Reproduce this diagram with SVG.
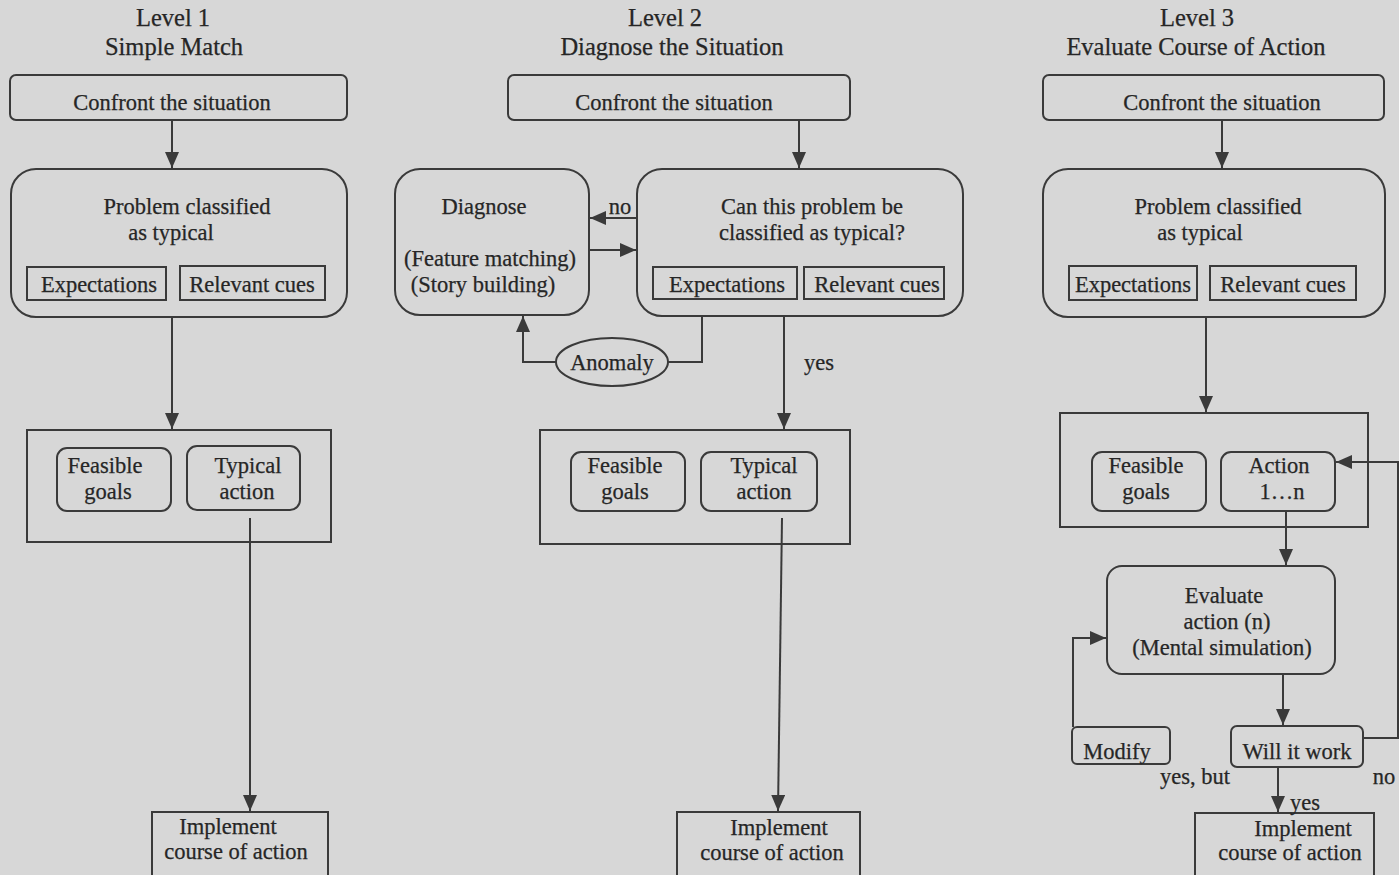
<svg xmlns="http://www.w3.org/2000/svg" width="1399" height="875" viewBox="0 0 1399 875">
<defs>
<marker id="arr" viewBox="0 0 16 14" refX="16" refY="7" markerWidth="16" markerHeight="14" markerUnits="userSpaceOnUse" orient="auto">
<path d="M0,0 L16,7 L0,14 z" fill="#3a3a3a"/>
</marker>
<style>
.b{fill:none;stroke:#3a3a3a;stroke-width:2}
.c{fill:none;stroke:#3a3a3a;stroke-width:2}
.t{font-family:"Liberation Serif","Times New Roman",serif;font-size:22.5px;fill:#262626;stroke:#262626;stroke-width:0.25;text-anchor:middle}
.h{font-family:"Liberation Serif","Times New Roman",serif;font-size:24.5px;fill:#262626;stroke:#262626;stroke-width:0.25;text-anchor:middle}
</style>
</defs>
<rect width="1399" height="875" fill="#d7d7d7"/>

<g id="titles">
<text class="h" x="173" y="26">Level 1</text>
<text class="h" x="174" y="55">Simple Match</text>
<text class="h" x="665" y="26">Level 2</text>
<text class="h" x="672" y="55">Diagnose the Situation</text>
<text class="h" x="1197" y="26">Level 3</text>
<text class="h" x="1196" y="55">Evaluate Course of Action</text>
</g>

<!-- Level 1 -->
<g id="l1-confront"><rect class="b" x="10" y="75" width="337" height="45" rx="6"/><text class="t" x="172" y="110">Confront the situation</text></g>
<g id="l1-problem"><rect class="b" x="11" y="169" width="336" height="148" rx="25"/><text class="t" x="187" y="214">Problem classified</text><text class="t" x="171" y="240">as typical</text></g>
<g id="l1-expect"><rect class="b" x="27" y="267" width="139" height="33"/><text class="t" x="99" y="292">Expectations</text></g>
<g id="l1-cues"><rect class="b" x="180" y="266" width="145" height="34"/><text class="t" x="252" y="292">Relevant cues</text></g>
<g id="l1-container"><rect class="b" x="27" y="430" width="304" height="112"/></g>
<g id="l1-goals"><rect class="b" x="57" y="448" width="114" height="63" rx="10"/><text class="t" x="105" y="473">Feasible</text><text class="t" x="108" y="499">goals</text></g>
<g id="l1-action"><rect class="b" x="187" y="446" width="113" height="64" rx="10"/><text class="t" x="248" y="473">Typical</text><text class="t" x="247" y="499">action</text></g>
<g id="l1-implement"><rect class="b" x="152" y="812" width="176" height="80"/><text class="t" x="228" y="834">Implement</text><text class="t" x="236" y="859">course of action</text></g>

<!-- Level 2 -->
<g id="l2-confront"><rect class="b" x="508" y="75" width="342" height="45" rx="6"/><text class="t" x="674" y="110">Confront the situation</text></g>
<g id="l2-classify"><rect class="b" x="637" y="169" width="326" height="147" rx="25"/><text class="t" x="812" y="214">Can this problem be</text><text class="t" x="812" y="240">classified as typical?</text></g>
<g id="l2-expect"><rect class="b" x="653" y="267" width="144" height="32"/><text class="t" x="727" y="292">Expectations</text></g>
<g id="l2-cues"><rect class="b" x="804" y="267" width="140" height="32"/><text class="t" x="877" y="292">Relevant cues</text></g>
<g id="l2-diagnose"><rect class="b" x="395" y="169" width="194" height="146" rx="25"/><text class="t" x="484" y="214">Diagnose</text><text class="t" x="490" y="266">(Feature matching)</text><text class="t" x="483" y="292">(Story building)</text></g>
<g id="l2-anomaly"><ellipse class="b" cx="612" cy="362" rx="56" ry="24"/><text class="t" x="612" y="370">Anomaly</text></g>
<g id="l2-container"><rect class="b" x="540" y="430" width="310" height="114"/></g>
<g id="l2-goals"><rect class="b" x="571" y="452" width="114" height="59" rx="10"/><text class="t" x="625" y="473">Feasible</text><text class="t" x="625" y="499">goals</text></g>
<g id="l2-action"><rect class="b" x="701" y="452" width="116" height="59" rx="10"/><text class="t" x="764" y="473">Typical</text><text class="t" x="764" y="499">action</text></g>
<g id="l2-implement"><rect class="b" x="677" y="812" width="183" height="80"/><text class="t" x="779" y="835">Implement</text><text class="t" x="772" y="860">course of action</text></g>

<!-- Level 3 -->
<g id="l3-confront"><rect class="b" x="1043" y="75" width="341" height="45" rx="6"/><text class="t" x="1222" y="110">Confront the situation</text></g>
<g id="l3-problem"><rect class="b" x="1043" y="169" width="342" height="148" rx="25"/><text class="t" x="1218" y="214">Problem classified</text><text class="t" x="1200" y="240">as typical</text></g>
<g id="l3-expect"><rect class="b" x="1069" y="266" width="128" height="34"/><text class="t" x="1133" y="292">Expectations</text></g>
<g id="l3-cues"><rect class="b" x="1210" y="266" width="146" height="34"/><text class="t" x="1283" y="292">Relevant cues</text></g>
<g id="l3-container"><rect class="b" x="1060" y="413" width="308" height="114"/></g>
<g id="l3-goals"><rect class="b" x="1092" y="452" width="114" height="59" rx="10"/><text class="t" x="1146" y="473">Feasible</text><text class="t" x="1146" y="499">goals</text></g>
<g id="l3-action"><rect class="b" x="1221" y="452" width="114" height="59" rx="10"/><text class="t" x="1279" y="473">Action</text><text class="t" x="1282" y="499">1…n</text></g>
<g id="l3-evaluate"><rect class="b" x="1107" y="566" width="228" height="108" rx="15"/><text class="t" x="1224" y="603">Evaluate</text><text class="t" x="1227" y="629">action (n)</text><text class="t" x="1222" y="655">(Mental simulation)</text></g>
<g id="l3-will"><rect class="b" x="1231" y="726" width="132" height="41" rx="6"/><text class="t" x="1297" y="759">Will it work</text></g>
<g id="l3-modify"><rect class="b" x="1072" y="727" width="98" height="37" rx="5"/><text class="t" x="1117" y="759">Modify</text></g>
<g id="l3-implement"><rect class="b" x="1195" y="813" width="179" height="80"/><text class="t" x="1303" y="836">Implement</text><text class="t" x="1290" y="860">course of action</text></g>

<g id="connectors">
<line class="c" x1="172" y1="120" x2="172" y2="168" marker-end="url(#arr)"/>
<line class="c" x1="172" y1="317" x2="172" y2="429" marker-end="url(#arr)"/>
<line class="c" x1="250" y1="518" x2="250" y2="811" marker-end="url(#arr)"/>

<line class="c" x1="799" y1="120" x2="799" y2="168" marker-end="url(#arr)"/>
<line class="c" x1="637" y1="218" x2="590" y2="218" marker-end="url(#arr)"/>
<line class="c" x1="589" y1="250" x2="636" y2="250" marker-end="url(#arr)"/>
<polyline class="c" points="668,362 702,362 702,317"/>
<polyline class="c" points="556,362 523,362 523,316" marker-end="url(#arr)"/>
<line class="c" x1="784" y1="317" x2="784" y2="429" marker-end="url(#arr)"/>
<line class="c" x1="782" y1="518" x2="778" y2="811" marker-end="url(#arr)"/>

<line class="c" x1="1222" y1="120" x2="1222" y2="168" marker-end="url(#arr)"/>
<line class="c" x1="1206" y1="317" x2="1206" y2="412" marker-end="url(#arr)"/>
<line class="c" x1="1286" y1="511" x2="1286" y2="565" marker-end="url(#arr)"/>
<line class="c" x1="1283" y1="674" x2="1283" y2="725" marker-end="url(#arr)"/>
<polyline class="c" points="1073,727 1073,638 1106,638" marker-end="url(#arr)"/>
<polyline class="c" points="1363,738 1398,738 1398,462 1336,462" marker-end="url(#arr)"/>
<line class="c" x1="1278" y1="767" x2="1278" y2="812" marker-end="url(#arr)"/>

<text class="t" x="620" y="214">no</text>
<text class="t" x="819" y="370">yes</text>
<text class="t" x="1195" y="784">yes, but</text>
<text class="t" x="1384" y="784">no</text>
<text class="t" x="1305" y="810">yes</text>
</g>
</svg>
